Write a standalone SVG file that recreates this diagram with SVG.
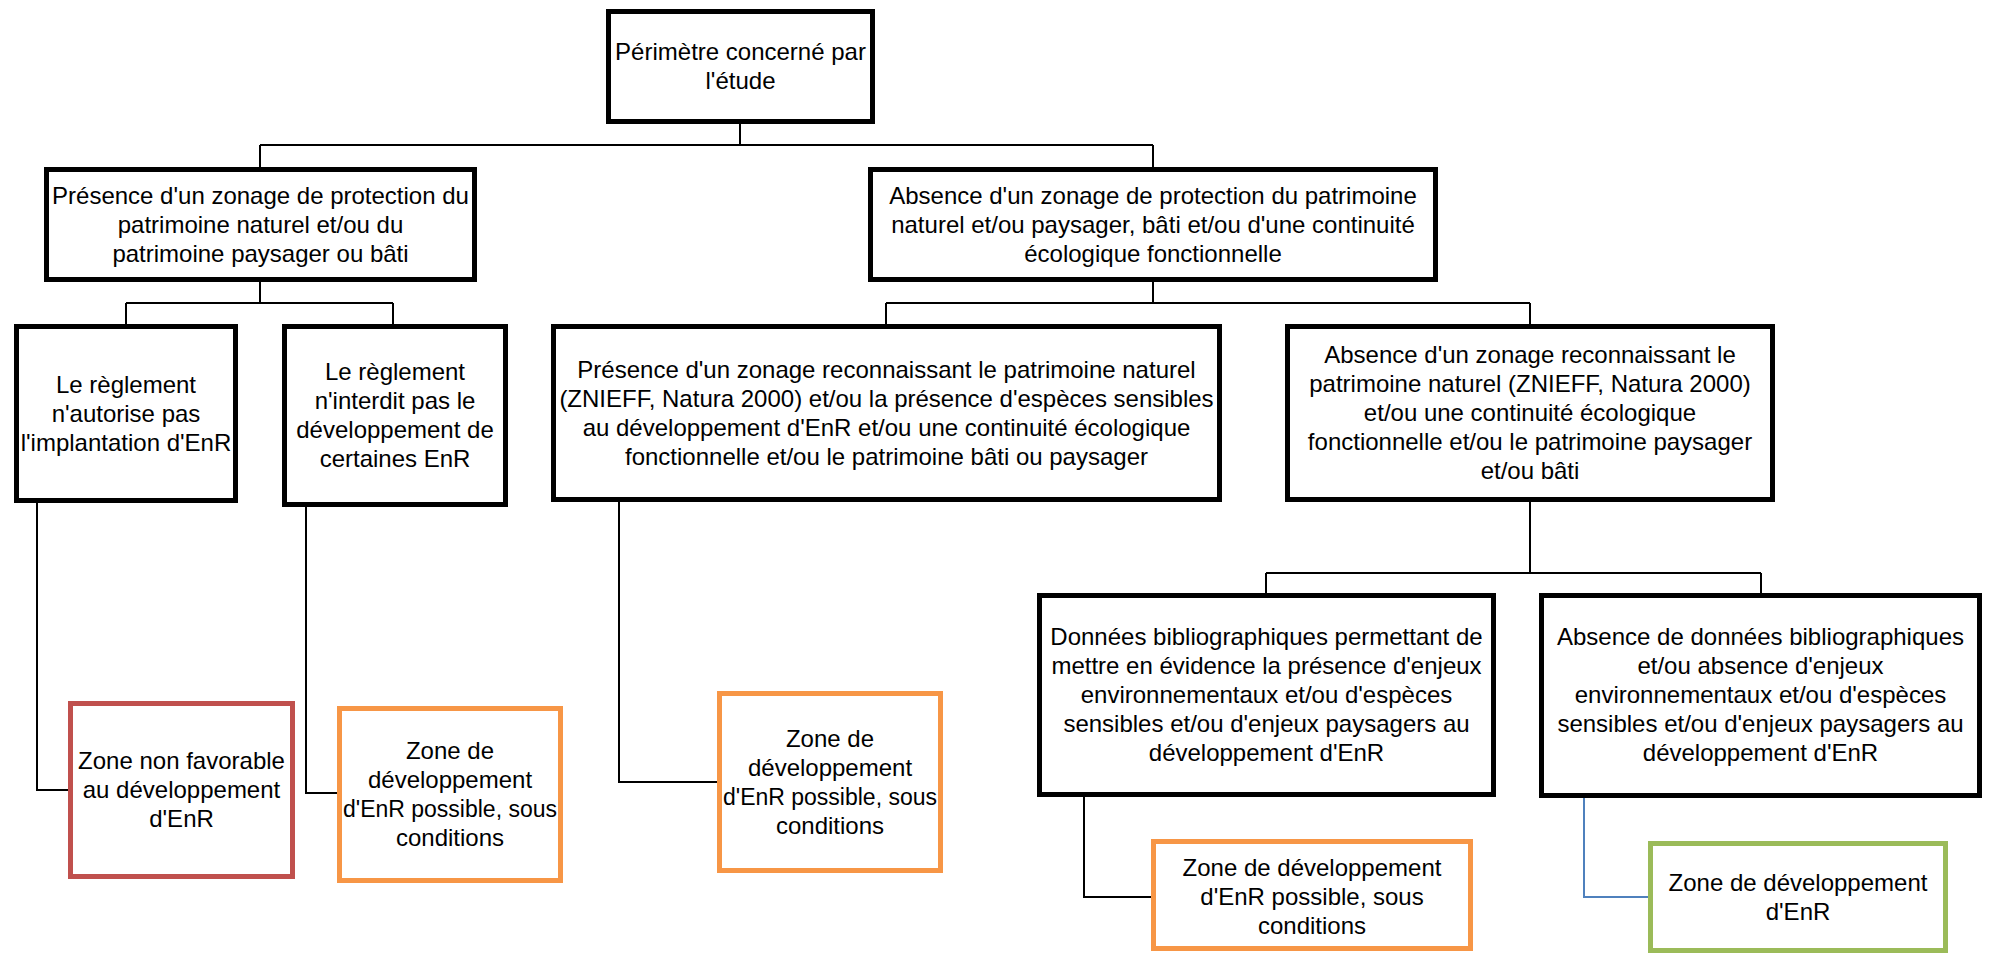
<svg xmlns="http://www.w3.org/2000/svg" width="1993" height="954" viewBox="0 0 1993 954">
<style>
.box{fill:#fff;stroke:#000;stroke-width:5}
.red{fill:#fff;stroke:#C0504D;stroke-width:5}
.orange{fill:#fff;stroke:#F79646;stroke-width:5}
.green{fill:#fff;stroke:#9BBB59;stroke-width:5}
.conn{fill:none;stroke:#000;stroke-width:2}
.blue{fill:none;stroke:#4F81BD;stroke-width:2}
text{font-family:"Liberation Sans",Arial,sans-serif;font-size:24px;fill:#000;text-anchor:middle}
.sm{font-size:23px}
</style>
<rect width="1993" height="954" fill="#fff"/>
<g id="connectors">
<path class="conn" d="M740,124V145M260,145H1153M260,145V167M1153,145V167"/>
<path class="conn" d="M260,282V303M126,303H393M126,303V324M393,303V324"/>
<path class="conn" d="M1153,282V303M886,303H1530M886,303V324M1530,303V324"/>
<path class="conn" d="M1530,502V573M1266,573H1761M1266,573V593M1761,573V593"/>
<path class="conn" d="M37,503V790H68"/>
<path class="conn" d="M306,507V793H337"/>
<path class="conn" d="M619,502V782H717"/>
<path class="conn" d="M1084,797V897H1151"/>
<path class="blue" d="M1584,798V897H1648"/>
</g>
<g id="n-top">
<rect class="box" x="608.5" y="11.5" width="264" height="110"/>
<text x="740.5" y="60">Périmètre concerné par</text>
<text x="740.5" y="89">l'étude</text>
</g>
<g id="n-presence-protection">
<rect class="box" x="46.5" y="169.5" width="428" height="110"/>
<text x="260.5" y="203.5">Présence d'un zonage de protection du</text>
<text x="260.5" y="232.5">patrimoine naturel et/ou du</text>
<text x="260.5" y="261.5">patrimoine paysager ou bâti</text>
</g>
<g id="n-absence-protection">
<rect class="box" x="870.5" y="169.5" width="565" height="110"/>
<text x="1153" y="203.5">Absence d'un zonage de protection du patrimoine</text>
<text x="1153" y="232.5">naturel et/ou paysager, bâti et/ou d'une continuité</text>
<text x="1153" y="261.5">écologique fonctionnelle</text>
</g>
<g id="n-reglement-autorise">
<rect class="box" x="16.5" y="326.5" width="219" height="174"/>
<text x="126" y="392.5">Le règlement</text>
<text x="126" y="421.5">n'autorise pas</text>
<text x="126" y="450.5">l'implantation d'EnR</text>
</g>
<g id="n-reglement-interdit">
<rect class="box" x="284.5" y="326.5" width="221" height="178"/>
<text x="395" y="380">Le règlement</text>
<text x="395" y="409">n'interdit pas le</text>
<text x="395" y="438">développement de</text>
<text x="395" y="467">certaines EnR</text>
</g>
<g id="n-presence-reconnaissant">
<rect class="box" x="553.5" y="326.5" width="666" height="173"/>
<text x="886.5" y="377.5">Présence d'un zonage reconnaissant le patrimoine naturel</text>
<text x="886.5" y="406.5">(ZNIEFF, Natura 2000) et/ou la présence d'espèces sensibles</text>
<text x="886.5" y="435.5">au développement d'EnR et/ou une continuité écologique</text>
<text x="886.5" y="464.5">fonctionnelle et/ou le patrimoine bâti ou paysager</text>
</g>
<g id="n-absence-reconnaissant">
<rect class="box" x="1287.5" y="326.5" width="485" height="173"/>
<text x="1530" y="363">Absence d'un zonage reconnaissant le</text>
<text x="1530" y="392">patrimoine naturel (ZNIEFF, Natura 2000)</text>
<text x="1530" y="421">et/ou une continuité écologique</text>
<text x="1530" y="450">fonctionnelle et/ou le patrimoine paysager</text>
<text x="1530" y="479">et/ou bâti</text>
</g>
<g id="n-donnees">
<rect class="box" x="1039.5" y="595.5" width="454" height="199"/>
<text x="1266.5" y="645">Données bibliographiques permettant de</text>
<text x="1266.5" y="674">mettre en évidence la présence d'enjeux</text>
<text x="1266.5" y="703">environnementaux et/ou d'espèces</text>
<text x="1266.5" y="732">sensibles et/ou d'enjeux paysagers au</text>
<text x="1266.5" y="761">développement d'EnR</text>
</g>
<g id="n-absence-donnees">
<rect class="box" x="1541.5" y="595.5" width="438" height="200"/>
<text x="1760.5" y="645">Absence de données bibliographiques</text>
<text x="1760.5" y="674">et/ou absence d'enjeux</text>
<text x="1760.5" y="703">environnementaux et/ou d'espèces</text>
<text x="1760.5" y="732">sensibles et/ou d'enjeux paysagers au</text>
<text x="1760.5" y="761">développement d'EnR</text>
</g>
<g id="n-zone-non-favorable">
<rect class="red" x="70.5" y="703.5" width="222" height="173"/>
<text x="181.5" y="769">Zone non favorable</text>
<text x="181.5" y="798">au développement</text>
<text x="181.5" y="827">d'EnR</text>
</g>
<g id="n-zone-conditions-1">
<rect class="orange" x="339.5" y="708.5" width="221" height="172"/>
<text x="450" y="759">Zone de</text>
<text x="450" y="788">développement</text>
<text class="sm" x="450" y="817">d'EnR possible, sous</text>
<text x="450" y="846">conditions</text>
</g>
<g id="n-zone-conditions-2">
<rect class="orange" x="719.5" y="693.5" width="221" height="177"/>
<text x="830" y="746.5">Zone de</text>
<text x="830" y="775.5">développement</text>
<text class="sm" x="830" y="804.5">d'EnR possible, sous</text>
<text x="830" y="833.5">conditions</text>
</g>
<g id="n-zone-conditions-3">
<rect class="orange" x="1153.5" y="841.5" width="317" height="107"/>
<text x="1312" y="876">Zone de développement</text>
<text x="1312" y="905">d'EnR possible, sous</text>
<text x="1312" y="934">conditions</text>
</g>
<g id="n-zone-developpement">
<rect class="green" x="1650.5" y="843.5" width="295" height="107"/>
<text x="1798" y="891">Zone de développement</text>
<text x="1798" y="920">d'EnR</text>
</g>
</svg>
